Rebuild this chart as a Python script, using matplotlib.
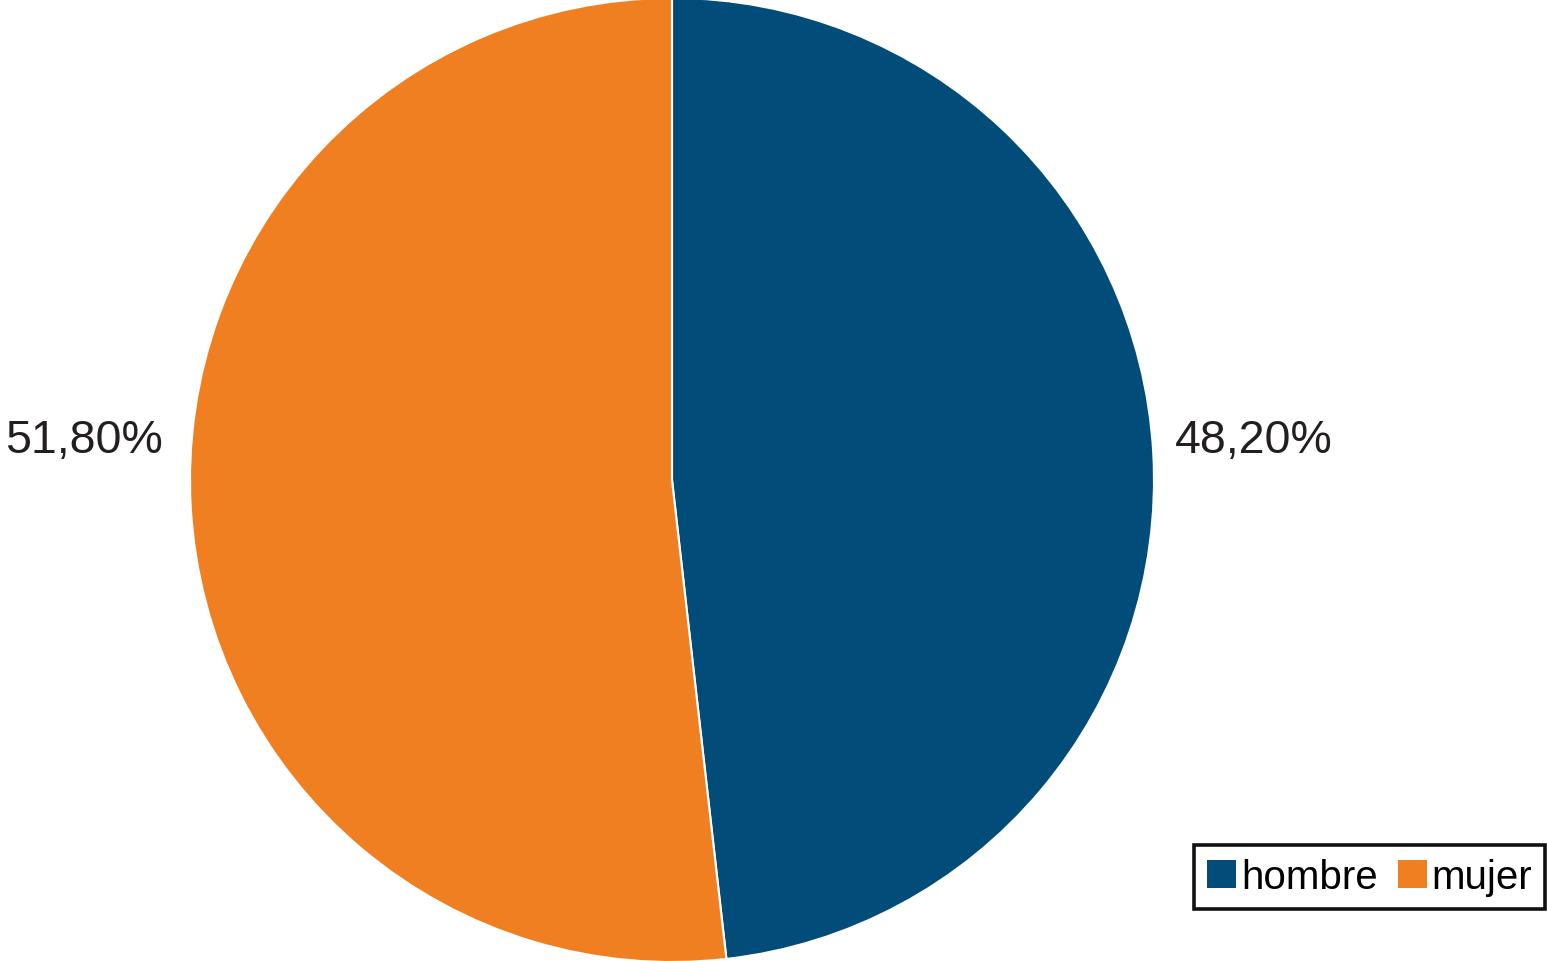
import matplotlib
matplotlib.use("Agg")
import matplotlib.pyplot as plt

plt.rcParams['font.family'] = ['Liberation Sans', 'DejaVu Sans']

categories = ['hombre', 'mujer']
values = [48.2, 51.8]
labels = ['48,20%', '51,80%']
colors = ['#024c7a', '#f07f22']

W, H = 1547, 962
fig = plt.figure(figsize=(W / 100, H / 100), dpi=100)
ax = fig.add_axes([0, 0, 1, 1])

cx, cy, r = 672, 481, 482
wedges, texts = ax.pie(values, labels=labels, colors=colors, startangle=90,
                       counterclock=False, center=(cx, cy), radius=r,
                       labeldistance=1.05, frame=True,
                       wedgeprops=dict(edgecolor='white', linewidth=1.5),
                       textprops=dict(fontsize=33.5, color='#231f20'))
ax.set_xlim(0, W)
ax.set_ylim(0, H)
ax.set_aspect('equal')
ax.axis('off')
# data labels sit a little above the centre line
for t in texts:
    x, _ = t.get_position()
    t.set_ha('left' if x > cx else 'right')
    t.set_x(x - 2 if x > cx else x - 4)
    t.set_y(cy + 40)
    t.set_va('center')

leg = ax.legend(wedges, categories, loc='lower right',
                bbox_to_anchor=(1545 / W, (H - 910) / H),
                bbox_transform=fig.transFigure, ncol=2, fontsize=29,
                frameon=True, fancybox=False, framealpha=1,
                handlelength=0.72, handleheight=0.72, handletextpad=0.12,
                columnspacing=0.5, borderpad=0.32, borderaxespad=0)
leg.get_frame().set_edgecolor('#111111')
leg.get_frame().set_linewidth(2.6)
for h in leg.legend_handles:
    h.set_edgecolor('none')

fig.savefig('out.png', dpi=100)
